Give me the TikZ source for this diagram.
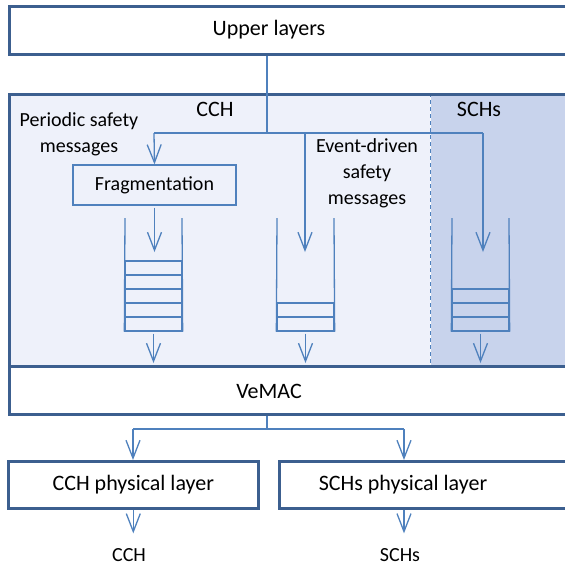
\documentclass[tikz,border=0pt]{standalone}
\usepackage{fontspec}
\setmainfont{Carlito}
\usetikzlibrary{arrows.meta,positioning}
\definecolor{edgeblue}{HTML}{4F81BD}
\definecolor{frameblue}{HTML}{3C5F8F}
\definecolor{cchfill}{HTML}{EEF1FA}
\definecolor{schfill}{HTML}{C8D3EC}
\tikzset{flow/.style={draw=edgeblue,line width=0.65pt,-{Straight Barb[length=9pt,width=7pt]}}}

\begin{document}
\begin{tikzpicture}[x=0.5pt,y=-0.5pt]
        \tikzstyle{layer}=[draw=frameblue,line width=1.3pt,fill=white,inner sep=0pt,anchor=north west]
        \tikzstyle{slot}=[draw=edgeblue,line width=0.65pt,minimum width=28.5pt,minimum height=7pt,inner sep=0pt]
        \tikzstyle{link}=[draw=edgeblue,line width=0.65pt]
        \tikzstyle{big}=[font=\fontsize{11}{13}\selectfont]
        \tikzstyle{small}=[font=\fontsize{10}{13}\selectfont,align=center]
        \clip (0,0) rectangle (565,569);
        % upper part
        \node[layer,minimum width=286pt,minimum height=24pt] (upper) at (8,5) {};
        \node[big] (upper-t) at (269,30) {Upper layers};
        \node[fill=cchfill,inner sep=0pt,anchor=north west,minimum width=211pt,minimum height=136pt] (cch) at (8,93) {};
        \node[fill=schfill,inner sep=0pt,anchor=north west,minimum width=75pt,minimum height=136pt] (sch) at (cch.north east) {};
        \draw[link,dash pattern=on 2pt off 1.5pt] (sch.north west) -- (sch.south west);
        \node[layer,fill=none,minimum width=286pt,minimum height=136pt] (chan) at (8,93) {};
        \node[layer,minimum width=286pt,minimum height=24pt] (vemac) at (8,365) {};
        \node[big] (vemac-t) at (269,391) {VeMAC};
        \node[big] (cch-t) at (215,109) {CCH};
        \node[big] (sch-t) at (479,109) {SCHs};
        \node[small] (periodic) at (79,134) {Periodic safety\\messages};
        \node[small] (event) at (367,173) {Event-driven\\safety\\messages};
        \node[draw=edgeblue,line width=0.65pt,minimum width=81.5pt,minimum height=20pt,small] (frag) at (154.5,185) {Fragmentation};
        % split to the queues
        \coordinate (split) at (267,133);
        \coordinate (tap1) at (154,133);
        \coordinate (tap2) at (305,133);
        \coordinate (tap3) at (483,133);
        \coordinate (qin) at (0,252);
        \draw[link] (split |- upper.south) -- (split);
        \draw[link] (tap1) -- (tap3);
        \draw[flow] (tap1) -- (frag.north);
        \draw[flow] (tap2) -- (tap2 |- qin);
        \draw[flow] (tap3) -- (tap3 |- qin);
        \draw[flow] ([yshift=-1pt]frag.south) -- (frag.south |- qin);
        % queues
        \foreach \x/\n/\q in {153.5/5/q1,305.5/2/q2,480.5/3/q3}{
            \foreach \k in {1,...,\n}
                \node[slot] (\q-\k) at (\x,{324-14*(\k-1)}) {};
            \draw[link] (\q-1.south west) -- (\x-28.5,218);
            \draw[link] (\q-1.south east) -- (\x+28.5,218);
            \draw[flow] ([yshift=-1pt]\q-1.south) -- ([yshift=1pt]\q-1.south |- vemac.north);
        }
        % lower part
        \node[layer,minimum width=125pt,minimum height=23.5pt,big] (cphy) at (7,460) {CCH physical layer};
        \node[layer,minimum width=151pt,minimum height=23.5pt] (sphy) at (278,460) {};
        \node[big] (sphy-t) at (403,485) {SCHs physical layer};
        \coordinate (fork) at (267,429);
        \coordinate (fork1) at (133,429);
        \coordinate (fork2) at (404,429);
        \draw[link] (fork |- vemac.south) -- (fork);
        \draw[link] (fork1) -- (fork2);
        \draw[flow] (fork1) -- (fork1 |- cphy.north);
        \draw[flow] (fork2) -- (fork2 |- sphy.north);
        \node[small] (cch-out) at (129,555) {CCH};
        \node[small] (sch-out) at (400,555) {SCHs};
        \draw[flow] (cphy.south) -- ([yshift=4pt]cphy.south |- cch-out.north);
        \draw[flow] (fork2 |- sphy.south) -- ([yshift=4pt]fork2 |- sch-out.north);
\end{tikzpicture}
\end{document}
